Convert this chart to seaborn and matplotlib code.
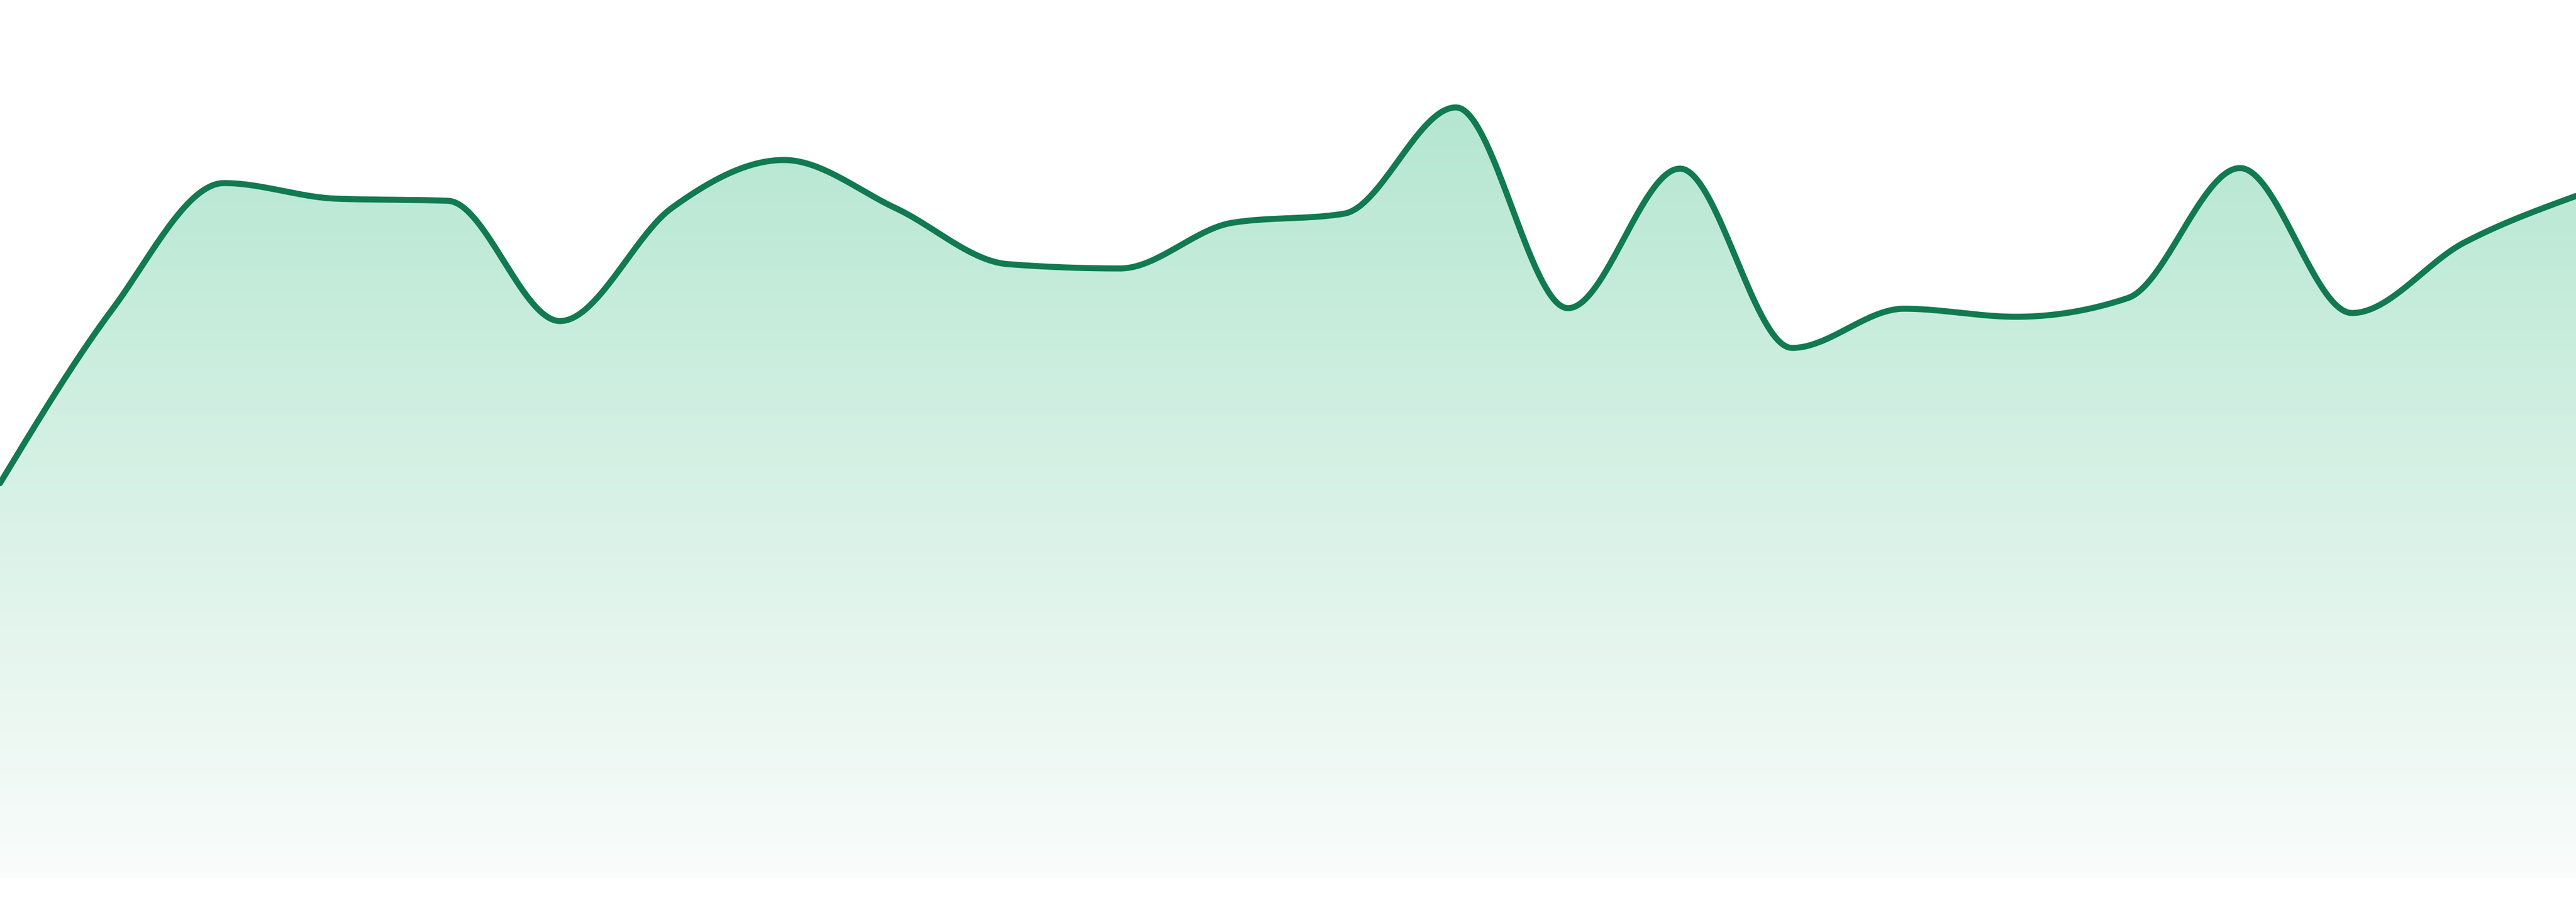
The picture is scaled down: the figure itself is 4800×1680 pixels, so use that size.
import numpy as np
import pandas as pd
import seaborn as sns
import matplotlib.pyplot as plt
from matplotlib.colors import LinearSegmentedColormap

# values (24 evenly spaced points, no axes shown)
points = list(range(24))
values = [73.5, 105.8, 129.4, 126.5, 126.1, 103.7, 124.8, 133.7,
          124.7, 114.3, 113.5, 122.0, 123.7, 143.5, 106.1, 132.1,
          98.7, 106.0, 104.5, 108.0, 132.2, 105.2, 118.3, 127.0]

LINE = "#117a50"
TOP = "#b3e6d0"
BOTTOM = "#fafcfb"


def monotone_x(x, y, n=40):
    # monotone cubic curve through the points (same idea as d3 curveMonotoneX)
    x = np.asarray(x, float)
    y = np.asarray(y, float)
    h = np.diff(x)
    s = np.diff(y) / h
    t = np.zeros(len(x))
    for i in range(1, len(x) - 1):
        p = (s[i - 1] * h[i] + s[i] * h[i - 1]) / (h[i - 1] + h[i])
        t[i] = (np.sign(s[i - 1]) + np.sign(s[i])) * min(abs(s[i - 1]), abs(s[i]), 0.5 * abs(p))
    t[0] = (3 * s[0] - t[1]) / 2
    t[-1] = (3 * s[-1] - t[-2]) / 2
    xs, ys = [], []
    for i in range(len(x) - 1):
        u = np.linspace(0, 1, n, endpoint=False)
        h00 = 2 * u**3 - 3 * u**2 + 1
        h10 = u**3 - 2 * u**2 + u
        h01 = -2 * u**3 + 3 * u**2
        h11 = u**3 - u**2
        xs.append(x[i] + u * h[i])
        ys.append(h00 * y[i] + h10 * h[i] * t[i] + h01 * y[i + 1] + h11 * h[i] * t[i + 1])
    xs.append([x[-1]])
    ys.append([y[-1]])
    return np.concatenate(xs), np.concatenate(ys)


cx, cy = monotone_x(points, values)
curve = pd.DataFrame({"x": cx, "y": cy})

sns.set_style("white")
fig = plt.figure(figsize=(16, 5.6), dpi=300)
ax = fig.add_axes([0, 0, 1, 1])

ymin, ymax = -4.5, 163.5
xmin, xmax = points[0], points[-1]

# gradient fill under the curve
cmap = LinearSegmentedColormap.from_list("fade", [BOTTOM, TOP])
grad = np.linspace(0, 1, 256).reshape(-1, 1)
img = ax.imshow(grad, cmap=cmap, aspect="auto", origin="lower",
                extent=[xmin, xmax, 0, max(values) * 1.02], zorder=1)
poly = ax.fill_between(curve["x"], 0, curve["y"], color="none", lw=0)
clip = poly.get_paths()[0]
img.set_clip_path(clip, transform=ax.transData)

sns.lineplot(data=curve, x="x", y="y", ax=ax, color=LINE, linewidth=2.7,
             sort=False, zorder=3)

ax.set_xlim(xmin, xmax)
ax.set_ylim(ymin, ymax)
ax.axis("off")

fig.savefig("out.png", dpi=300, facecolor="white")
